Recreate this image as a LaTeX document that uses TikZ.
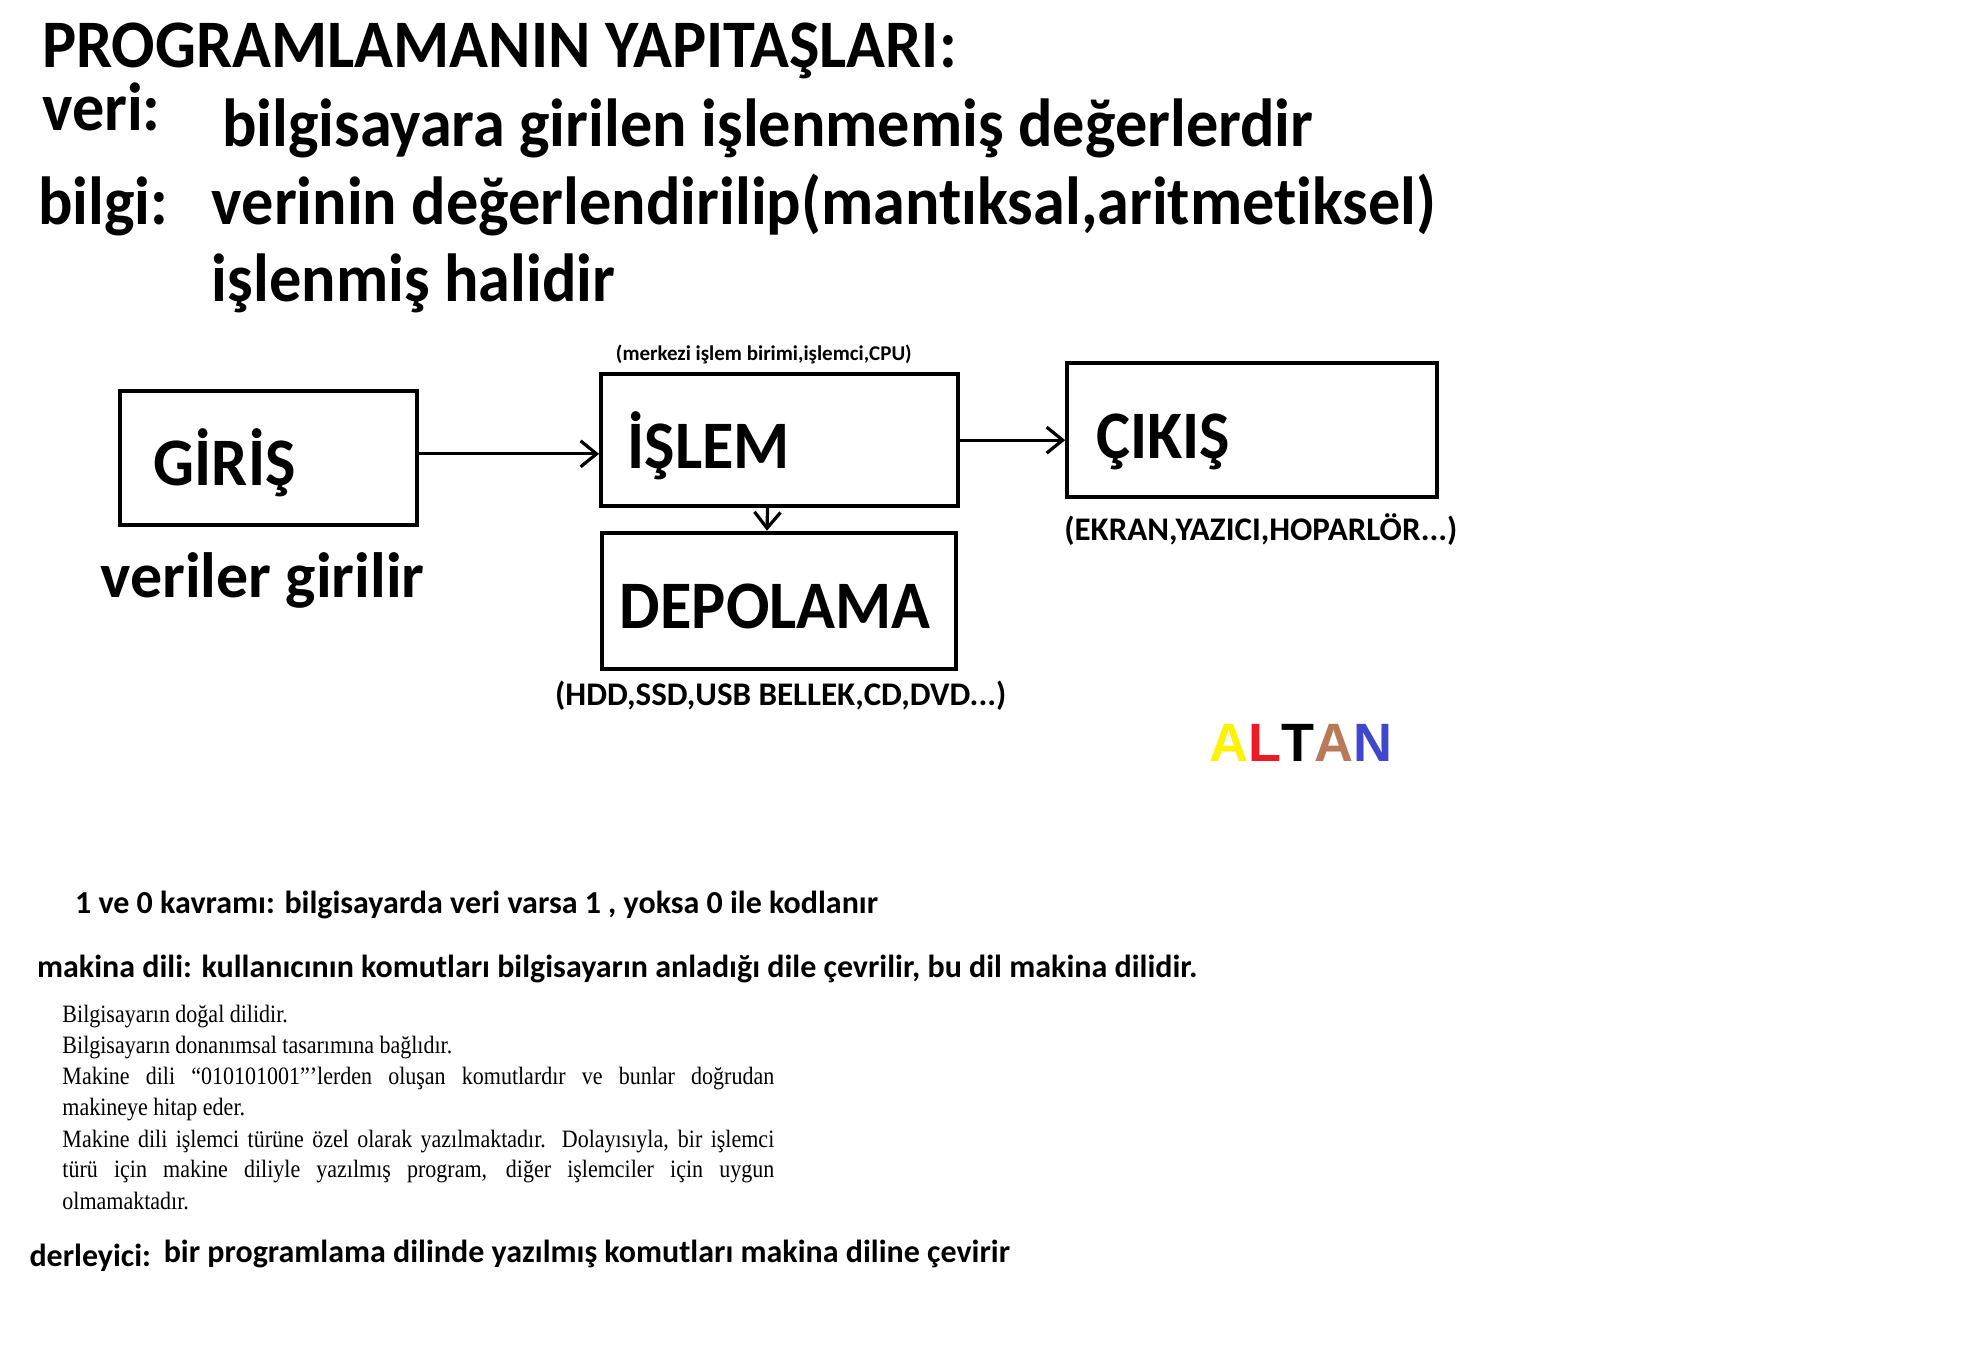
\documentclass[tikz,border=0pt]{standalone}
\usepackage{fontspec}
\setmainfont{Carlito}[Ligatures=CommonOff]
\newfontfamily\narrowfont[FakeStretch=0.945,Ligatures=CommonOff]{Carlito}
\newfontfamily\timesfont[FakeStretch=0.88]{Liberation Serif}
\newfontfamily\arialfont{Liberation Sans}
\usetikzlibrary{arrows.meta,positioning}

\newcommand{\pxu}{0.6333pt}
\newcommand{\bigsz}{\fontsize{34}{40}\selectfont}
\newcommand{\midsz}{\fontsize{16.5}{20}\selectfont}

\definecolor{paintyellow}{HTML}{FFF200}
\definecolor{paintred}{HTML}{ED1C24}
\definecolor{paintbrown}{HTML}{B97A57}
\definecolor{paintblue}{HTML}{3F48CC}

\begin{document}
\begin{tikzpicture}[
  x=0.6333pt, y=-0.6333pt,
  txt/.style={anchor=base west, inner sep=0pt, font=\narrowfont\bfseries\bigsz},
  note/.style={anchor=base west, inner sep=0pt, font=\bfseries\midsz},
  body/.style={anchor=base west, inner sep=0pt, font=\timesfont\fontsize{12.5}{15}\selectfont},
  box/.style={draw, line width=1.9pt, anchor=north west, align=left, font=\narrowfont\bfseries\bigsz,
    text height=32pt, text depth=4pt},
  arrow/.style={-{Straight Barb[length=8pt,width=13pt]}, line width=1.6pt}
]
\useasboundingbox (0,0) rectangle (1568,1071);

% header
\node[txt] (title) at (33,53) {PROGRAMLAMANIN YAPITAŞLARI:};
\node[txt] (veri) at (33,103) {veri:};
\node[txt] (veritxt) at (175,116) {bilgisayara girilen işlenmemiş değerlerdir};
\node[txt] (bilgi) at (30,177) {bilgi:};
\node[txt] (bilgitxt) at (167,177) {verinin değerlendirilip(mantıksal,aritmetiksel)};
\node[txt] (bilgitxt2) at (167,238) {işlenmiş halidir};

% blocks
\node[box, minimum height=106*\pxu, text width=181*\pxu, inner xsep=27*\pxu] (giris) at (93,307) {GİRİŞ};
\node[box, minimum height=104*\pxu, text width=240*\pxu, inner xsep=21*\pxu] (islem) at (473,294) {İŞLEM};
\node[box, minimum height=106*\pxu, text width=246*\pxu, inner xsep=23*\pxu] (cikis) at (841,285) {ÇIKIŞ};
\node[box, minimum height=108*\pxu, text width=251*\pxu, inner xsep=14*\pxu] (depolama) at (474,419) {DEPOLAMA};

\node[anchor=base west, inner sep=0pt, font=\bfseries\fontsize{10.5}{12}\selectfont] (cpu) at (486,285) {(merkezi işlem birimi,işlemci,CPU)};
\node[note] (cikisnot) at (840,427) {(EKRAN,YAZICI,HOPARLÖR...)};
\node[note] (depnot) at (438,557) {(HDD,SSD,USB BELLEK,CD,DVD...)};
\node[txt, font=\bfseries\fontsize{32}{38}\selectfont] (girisnot) at (79,472) {veriler girilir};

\draw[arrow] ([yshift=2pt]giris.east) -- ([yshift=2pt]giris.east -| islem.west);
\draw[arrow] (islem.east) -- (islem.east -| cikis.west);
\draw[arrow] ([xshift=-6pt]islem.south) -- ([xshift=-6pt]depolama.north);

\node[anchor=base west, inner sep=0pt, font=\arialfont\bfseries\fontsize{27}{32}\selectfont] (altan) at (955,601)
  {\textcolor{paintyellow}{A}\textcolor{paintred}{L}T\textcolor{paintbrown}{A}\textcolor{paintblue}{N}};

% notes below
\node[note, font=\bfseries\fontsize{16}{20}\selectfont] (birsifir) at (59,721) {1 ve 0 kavramı: bilgisayarda veri varsa 1 , yoksa 0 ile kodlanır};
\node[note, font=\bfseries\fontsize{16}{20}\selectfont] (makina) at (29,772) {makina dili: kullanıcının komutları bilgisayarın anladığı dile çevrilir, bu dil makina dilidir.};

\node[body] (s1) at (49,807) {Bilgisayarın doğal dilidir.};
\node[body] (s2) at (49,832) {Bilgisayarın donanımsal tasarımına bağlıdır.};
\node[body] (s3) at (49,856) {\makebox[355.9pt][s]{Makine dili “010101001”’lerden oluşan komutlardır ve bunlar doğrudan}};
\node[body] (s4) at (49,881) {makineye hitap eder.};
\node[body] (s5) at (49,906) {\makebox[355.9pt][s]{Makine dili işlemci türüne özel olarak yazılmaktadır. Dolayısıyla, bir işlemci}};
\node[body] (s6) at (49,930) {\makebox[355.9pt][s]{türü için makine diliyle yazılmış program, diğer işlemciler için uygun}};
\node[body] (s7) at (49,955) {olmamaktadır.};

\node[note, font=\bfseries\fontsize{16}{20}\selectfont] (derleyici) at (23,1000) {derleyici:};
\node[note, font=\bfseries\fontsize{16}{20}\selectfont] (derleyicitxt) at (129,997) {bir programlama dilinde yazılmış komutları makina diline çevirir};
\end{tikzpicture}
\end{document}
